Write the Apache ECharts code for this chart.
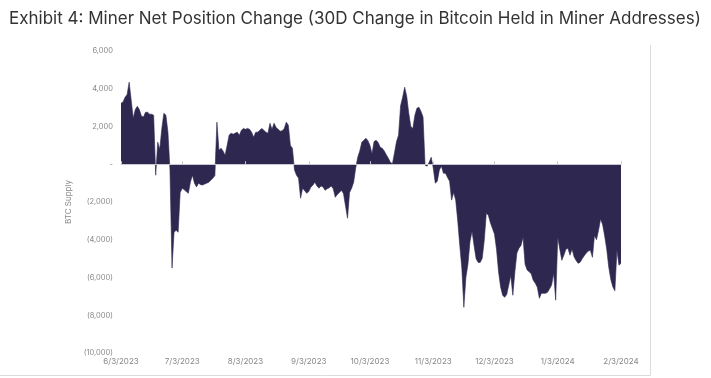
<!DOCTYPE html>
<html>
<head>
<meta charset="utf-8">
<script src="https://cdn.jsdelivr.net/npm/echarts@6/dist/echarts.min.js"></script>
<style>
html,body{margin:0;padding:0;background:#fff;}
#chart{width:711px;height:378px;}
</style>
</head>
<body>
<div id="chart"></div>
<script>
// Daily 30D change in BTC held by miner addresses, one array per month
const jun2023 = [3230,3300,3550,3700,4350,3390,2440,2900,3070,2900,2550,2500,2750,2760,2650,2650,2600,-580,1170,800,1900,2700,2600,1700,-300,-5500,-3600,-3500]; // Jun 3 - Jun 30
const jul2023 = [-3600,-1500,-1270,-1350,-1450,-1540,-950,-580,-1000,-1200,-1000,-1080,-1100,-1050,-1000,-950,-850,-740,-600,2230,740,850,700,480,1000,1550,1640,1590,1650,1700,1540];
const aug2023 = [1800,1900,1850,1900,1850,1700,1430,1700,1700,1800,1900,1800,1700,1640,2170,1850,2170,1950,1850,1750,1780,1900,2230,2070,1000,850,-300,-580,-740,-1800,-1270];
const sep2023 = [-1400,-1540,-1450,-1220,-1110,-950,-1150,-1270,-1150,-1200,-1380,-1300,-1250,-1150,-1300,-1750,-1600,-1500,-1380,-1550,-2200,-2860,-1500,-1270,-950,-200,370,700,1170,1270];
const oct2023 = [1380,1250,1000,550,1200,1270,1150,900,850,700,500,320,100,30,600,1200,1540,3100,3550,4080,3600,2700,2000,1900,2600,2970,3020,2800,2500,-50,-100];
const nov2023 = [100,370,-200,-1000,-900,-300,-100,-480,-480,-700,-900,-1900,-1500,-1900,-3000,-4300,-5500,-7580,-6000,-5300,-4100,-3550,-4300,-5000,-5200,-5200,-4980,-4030,-2600,-2700];
const dec2023 = [-3100,-3400,-3700,-4500,-5700,-6500,-6940,-7050,-6900,-6400,-5900,-6940,-5700,-4700,-4450,-4300,-3870,-5300,-5600,-5700,-5800,-6150,-6300,-6520,-7100,-6840,-6840,-6840,-6780,-6600,-6400];
const jan2024 = [-5780,-7200,-3870,-4500,-5090,-4820,-4500,-4450,-4820,-4500,-4900,-5100,-5250,-5190,-5000,-4850,-4700,-4600,-4560,-4930,-3770,-4000,-3500,-2900,-3200,-3800,-4500,-5460,-6100,-6500,-6700];
const feb2024 = [-4560,-5350,-5250];

// month blocks: [year, month, first day shown, values]
const monthBlocks = [
  [2023, 6, 3, jun2023], [2023, 7, 1, jul2023], [2023, 8, 1, aug2023],
  [2023, 9, 1, sep2023], [2023, 10, 1, oct2023], [2023, 11, 1, nov2023],
  [2023, 12, 1, dec2023], [2024, 1, 1, jan2024], [2024, 2, 1, feb2024]
];

// y-axis tick values
const yTicks = [6000, 4000, 2000, 0, -2000, -4000, -6000, -8000, -10000];

const categories = [];
const values = [];
monthBlocks.forEach(([y, m, d0, vals]) => {
  vals.forEach((v, i) => {
    categories.push(m + '/' + (d0 + i) + '/' + y);
    values.push(v);
  });
});

const isMonthTick = (idx, val) => val.split('/')[1] === '3';
const fmtY = v => v === 0 ? '-' : (v < 0 ? '(' + Math.abs(v).toLocaleString('en-US') + ')' : v.toLocaleString('en-US'));

const chart = echarts.init(document.getElementById('chart'), null, {renderer: 'canvas'});
const font = 'Inter, "Noto Sans", sans-serif';
chart.setOption({
  backgroundColor: '#fff',
  animation: false,
  title: {
    text: 'Exhibit 4: Miner Net Position Change (30D Change in Bitcoin Held in Miner Addresses)',
    left: 4, top: 5,
    textStyle: {fontSize: 17, fontWeight: 'normal', color: '#333', fontFamily: font}
  },
  grid: {left: 121, right: 90, top: 51, bottom: 25, containLabel: false},
  xAxis: [
    {
      type: 'category', data: categories, boundaryGap: false, position: 'bottom',
      axisLine: {show: false, onZero: false}, axisTick: {show: false},
      axisLabel: {interval: isMonthTick, color: '#888', fontSize: 8, fontFamily: font, margin: 5}
    },
    {
      type: 'category', data: categories, boundaryGap: false, position: 'bottom', z: 10,
      axisLine: {show: true, onZero: true, lineStyle: {color: '#c8c8d0', width: 1}},
      axisTick: {show: true, interval: isMonthTick, length: 3, inside: true, lineStyle: {color: '#c8c8d0'}},
      axisLabel: {show: false}
    }
  ],
  yAxis: {
    type: 'value', min: -10000, max: 6000, interval: 2000,
    splitLine: {show: false}, axisLine: {show: false}, axisTick: {show: false},
    axisLabel: {formatter: fmtY, color: '#888', fontSize: 7.5, fontFamily: font, margin: 8},
    name: 'BTC Supply', nameLocation: 'middle', nameGap: 40, nameRotate: 90,
    nameTextStyle: {color: '#888', fontSize: 8, fontFamily: font}
  },
  series: [{
    type: 'line', xAxisIndex: 0, data: values, showSymbol: false, symbol: 'none',
    lineStyle: {color: '#2e2850', width: 0.6},
    areaStyle: {color: '#2e2850', opacity: 1},
    itemStyle: {color: '#2e2850'}
  }],
  graphic: [
    {type: 'line', shape: {x1: 650.5, y1: 45, x2: 650.5, y2: 375.5}, style: {stroke: '#dcdcdc', lineWidth: 1}},
    {type: 'line', shape: {x1: 0, y1: 375.5, x2: 650.5, y2: 375.5}, style: {stroke: '#dcdcdc', lineWidth: 1}}
  ]
});
</script>
</body>
</html>
